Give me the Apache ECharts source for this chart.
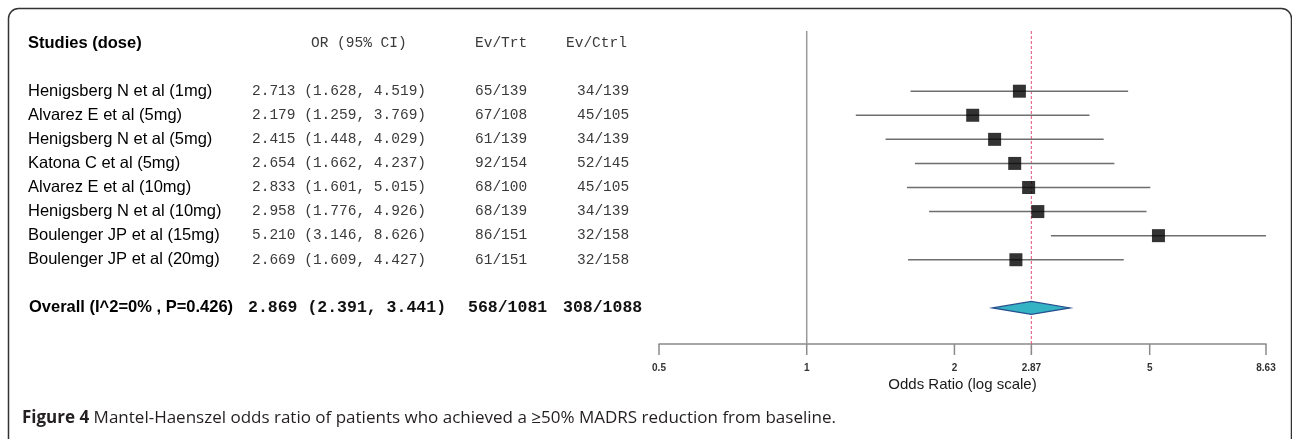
<!DOCTYPE html>
<html>
<head>
<meta charset="utf-8">
<script src="https://cdn.jsdelivr.net/npm/echarts@6/dist/echarts.min.js"></script>
<style>
html,body{margin:0;padding:0;background:#fff;}
#chart{width:1292px;height:439px;}
</style>
</head>
<body>
<div id="chart"></div>
<script>
// ---- data ----
const studies = [
  'Henigsberg N et al (1mg)',
  'Alvarez E et al (5mg)',
  'Henigsberg N et al (5mg)',
  'Katona C et al (5mg)',
  'Alvarez E et al (10mg)',
  'Henigsberg N et al (10mg)',
  'Boulenger JP et al (15mg)',
  'Boulenger JP et al (20mg)'
];
const orVals  = [2.713, 2.179, 2.415, 2.654, 2.833, 2.958, 5.210, 2.669];
const ciLow   = [1.628, 1.259, 1.448, 1.662, 1.601, 1.776, 3.146, 1.609];
const ciHigh  = [4.519, 3.769, 4.029, 4.237, 5.015, 4.926, 8.626, 4.427];
const evTrt   = [65, 67, 61, 92, 68, 68, 86, 61];
const nTrt    = [139, 108, 139, 154, 100, 139, 151, 151];
const evCtrl  = [34, 45, 34, 52, 45, 34, 32, 32];
const nCtrl   = [139, 105, 139, 145, 105, 139, 158, 158];

const overallLabel = 'Overall (I^2=0% , P=0.426)';
const overallOR = 2.869;
const overallLow = 2.391;
const overallHigh = 3.441;
const overallEvTrt = 568, overallNTrt = 1081;
const overallEvCtrl = 308, overallNCtrl = 1088;

const headers = ['Studies (dose)', 'OR (95% CI)', 'Ev/Trt', 'Ev/Ctrl'];
const xTicks = [0.5, 1, 2, 2.87, 5, 8.63];
const xTickLabels = ['0.5', '1', '2', '2.87', '5', '8.63'];
const axisTitle = 'Odds Ratio (log scale)';
const captionBold = 'Figure 4';
const captionText = ' Mantel-Haenszel odds ratio of patients who achieved a \u226550% MADRS reduction from baseline.';

// ---- layout ----
const ROW_HEADER = -2, ROW_OVERALL = 9;
const Y_MIN = -2.5, Y_MAX = 10.5;
const SANS = '"Liberation Sans", Arial, sans-serif';
const MONO = '"Liberation Mono", "DejaVu Sans Mono", monospace';

const chart = echarts.init(document.getElementById('chart'), null, {renderer: 'canvas'});

function orText(o, l, h) { return o.toFixed(3) + ' (' + l.toFixed(3) + ', ' + h.toFixed(3) + ')'; }

const tableRows = studies.map((s, i) => ({
  row: i, name: s, or: orText(orVals[i], ciLow[i], ciHigh[i]),
  trt: evTrt[i] + '/' + nTrt[i], ctrl: evCtrl[i] + '/' + nCtrl[i], kind: 'study'
}));
tableRows.push({row: ROW_OVERALL, name: overallLabel, or: orText(overallOR, overallLow, overallHigh),
  trt: overallEvTrt + '/' + overallNTrt, ctrl: overallEvCtrl + '/' + overallNCtrl, kind: 'overall'});
tableRows.push({row: ROW_HEADER, name: headers[0], or: headers[1], trt: headers[2], ctrl: headers[3], kind: 'header'});

const colX = {
  study:   [28, 252, 475, 577],
  overall: [29, 248, 468, 563],
  header:  [28, 311, 475, 566]
};

const option = {
  animation: false,
  backgroundColor: '#fff',
  grid: {left: 659, right: 26, top: 31, bottom: 95, containLabel: false},
  xAxis: {
    type: 'log', logBase: 10, min: 0.5, max: 8.63,
    axisLine: {show: true, onZero: false, lineStyle: {color: '#8a8a8a', width: 1.5}},
    axisTick: {show: false}, axisLabel: {show: false}, splitLine: {show: false},
    name: axisTitle, nameLocation: 'middle', nameGap: 33,
    nameTextStyle: {fontFamily: SANS, fontSize: 15, color: '#1a1a1a'}
  },
  yAxis: {
    type: 'value', inverse: true, min: Y_MIN, max: Y_MAX,
    show: false
  },
  graphic: [
    {type: 'rect', shape: {x: 8.5, y: 8.5, width: 1283, height: 520, r: 10},
     style: {fill: 'none', stroke: '#333', lineWidth: 1.5}, silent: true},
    {type: 'text', left: 22, top: 410,
     style: {text: '{b|' + captionBold + '}{n|' + captionText + '}',
       rich: {b: {fontFamily: '"Open Sans", sans-serif', fontWeight: 'bold', fontSize: 17, fill: '#231f20'},
              n: {fontFamily: '"Open Sans", sans-serif', fontSize: 17, fill: '#231f20'}}}}
  ],
  series: [
    { // reference line at OR = 1
      type: 'line', data: [[1, Y_MIN], [1, Y_MAX]], symbol: 'none',
      lineStyle: {color: '#9a9a9a', width: 1.5}, silent: true, z: 1
    },
    { // pooled OR dashed line
      type: 'line', clip: false, data: [[overallOR, Y_MIN], [overallOR, Y_MAX + 0.45]], symbol: 'none',
      lineStyle: {color: '#e0507a', width: 1, type: [3, 2]}, silent: true, z: 1
    },
    { // CI lines
      type: 'custom', clip: false, z: 2,
      data: studies.map((s, i) => [ciLow[i], ciHigh[i], i]),
      encode: {x: [0, 1], y: 2},
      renderItem: function (params, api) {
        const a = api.coord([api.value(0), api.value(2)]);
        const b = api.coord([api.value(1), api.value(2)]);
        return {type: 'line', shape: {x1: a[0], y1: a[1], x2: b[0], y2: b[1]},
          style: {stroke: '#6e6e6e', lineWidth: 1.5}};
      }
    },
    { // point estimates
      type: 'scatter', symbol: 'rect', symbolSize: 13, z: 3,
      itemStyle: {color: '#000'},
      data: studies.map((s, i) => [orVals[i], i])
    },
    { // overall diamond
      type: 'custom', clip: false, z: 3,
      data: [[overallLow, overallOR, overallHigh, ROW_OVERALL]],
      encode: {x: [0, 1, 2], y: 3},
      renderItem: function (params, api) {
        const l = api.coord([api.value(0), api.value(3)]);
        const m = api.coord([api.value(1), api.value(3)]);
        const r = api.coord([api.value(2), api.value(3)]);
        const h = 6.5;
        return {type: 'polygon',
          shape: {points: [[l[0], l[1]], [m[0], m[1] - h], [r[0], r[1]], [m[0], m[1] + h]]},
          style: {fill: '#33b3c3', stroke: '#28508f', lineWidth: 1.2}};
      }
    },
    { // x ticks and labels
      type: 'custom', clip: false, z: 4,
      data: xTicks.map((v, i) => [v, i]),
      encode: {x: 0},
      renderItem: function (params, api) {
        const p = api.coord([api.value(0), Y_MAX]);
        return {type: 'group', children: [
          {type: 'line', shape: {x1: p[0], y1: p[1], x2: p[0], y2: p[1] + 11},
           style: {stroke: '#8a8a8a', lineWidth: 1.5}},
          {type: 'text', x: p[0], y: p[1] + 24,
           style: {text: xTickLabels[params.dataIndex], fontFamily: SANS, fontSize: 10,
             fontWeight: 'bold', fill: '#333', align: 'center', verticalAlign: 'middle'}}
        ]};
      }
    },
    { // table text
      type: 'custom', clip: false, z: 5,
      data: tableRows.map(r => [1, r.row]),
      encode: {x: 0, y: 1},
      renderItem: function (params, api) {
        const r = tableRows[params.dataIndex];
        const y = api.coord([1, api.value(1)])[1];
        const xs = colX[r.kind];
        const isOverall = r.kind === 'overall';
        const isHeader = r.kind === 'header';
        const nameStyle = {fontFamily: SANS, fontSize: 16.5,
          fontWeight: (isOverall || isHeader) ? 'bold' : 'normal', fill: '#000'};
        const monoStyle = {fontFamily: MONO, fontSize: isOverall ? 16.5 : 14.5,
          fontWeight: isOverall ? 'bold' : 'normal', fill: isOverall ? '#111' : '#3a3a3a'};
        const cells = [r.name, r.or, r.trt, r.ctrl];
        return {type: 'group', children: cells.map((t, k) => ({
          type: 'text', x: xs[k], y: y,
          style: Object.assign({text: t, align: 'left', verticalAlign: 'middle'},
            k === 0 ? nameStyle : monoStyle)
        }))};
      }
    }
  ]
};
chart.setOption(option);
</script>
</body>
</html>
